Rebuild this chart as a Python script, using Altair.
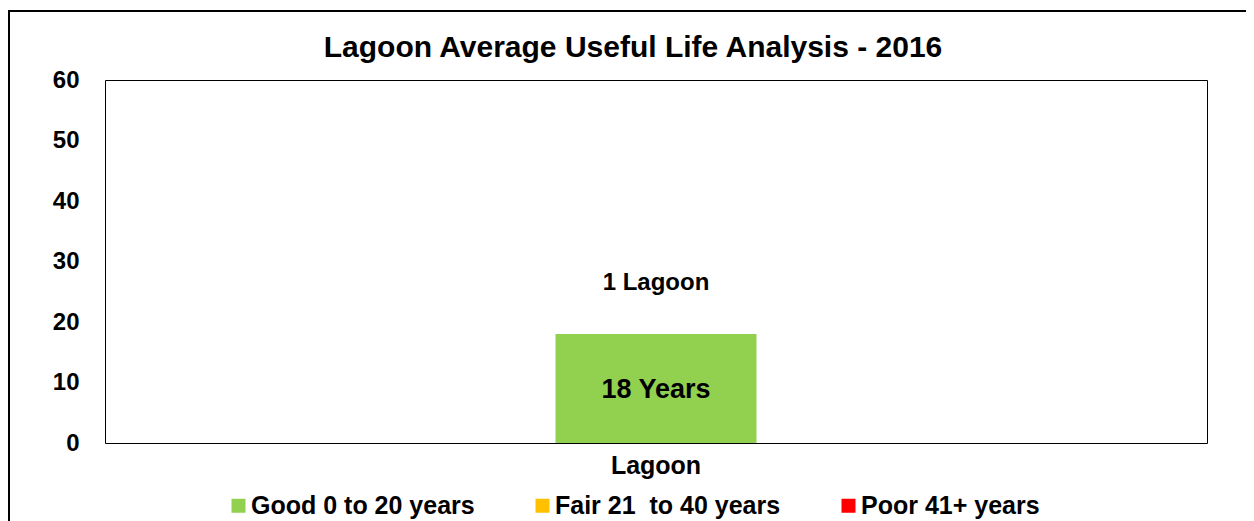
import altair as alt
import pandas as pd

# ---- data ----
categories = ["Lagoon"]
ages = [18]
counts_labels = ["1 Lagoon"]
value_labels = ["18 Years"]
condition = ["Good 0 to 20 years"]

legend_domain = ["Good 0 to 20 years", "Fair 21\u00a0 to 40 years", "Poor 41+ years"]
legend_colors = ["#92D050", "#FFC000", "#FF0000"]

df = pd.DataFrame({
    "Category": categories,
    "Age": ages,
    "CountLabel": counts_labels,
    "ValueLabel": value_labels,
    "Condition": condition,
})

FONT = "Liberation Sans, Arial, sans-serif"

base = alt.Chart(df)

bars = base.mark_bar(size=201).encode(
    x=alt.X("Category:N", title=None,
            axis=alt.Axis(labelAngle=0, labelFontSize=25, labelFont=FONT,
                          labelFontWeight="bold", labelColor="black",
                          domain=False, ticks=False, tickSize=0,
                          labelPadding=10)),
    y=alt.Y("Age:Q", title=None,
            scale=alt.Scale(domain=[0, 60], nice=False),
            axis=alt.Axis(values=[0, 10, 20, 30, 40, 50, 60], grid=False,
                          domain=False, ticks=False, tickSize=0,
                          labelPadding=26, labelFontSize=24, labelFont=FONT,
                          labelFontWeight="bold", labelColor="black")),
    color=alt.Color("Condition:N",
                    scale=alt.Scale(domain=legend_domain, range=legend_colors),
                    legend=alt.Legend(orient="none", legendX=121, legendY=413,
                                      direction="horizontal", title=None,
                                      symbolType="square", symbolSize=196,
                                      symbolStrokeWidth=0, labelFontSize=25,
                                      labelFont=FONT, labelFontWeight="bold",
                                      labelColor="black", labelOffset=0,
                                      columnPadding=55, padding=0,
                                      labelLimit=0)),
)

inner = base.transform_calculate(mid="datum.Age / 2").mark_text(
    font=FONT, fontSize=27, fontWeight="bold", color="black",
    baseline="middle", dy=1
).encode(x="Category:N", y="mid:Q", text="ValueLabel:N")

top = base.mark_text(
    font=FONT, fontSize=24, fontWeight="bold", color="black",
    baseline="middle", dy=-51
).encode(x="Category:N", y="Age:Q", text="CountLabel:N")

frame_data = alt.Data(values=[{}])
frame_left = alt.Chart(frame_data).mark_rule(color="black", strokeWidth=2).encode(
    x=alt.value(-96), y=alt.value(-69), y2=alt.value(445))
frame_top = alt.Chart(frame_data).mark_rule(color="black", strokeWidth=2).encode(
    x=alt.value(-97), x2=alt.value(1152), y=alt.value(-69))

chart = alt.layer(frame_left, frame_top, bars, inner, top).properties(
    width=1102,
    height=363,
    background="white",
    autosize=alt.AutoSizeParams(type="none"),
    padding={"left": 97, "top": 72, "right": 39, "bottom": 78},
    title=alt.TitleParams("Lagoon Average Useful Life Analysis - 2016",
                          font=FONT, fontSize=30, fontWeight="bold",
                          color="black", anchor="middle", baseline="alphabetic",
                          offset=-77, dx=-23),
).configure_view(stroke="black", strokeWidth=1)

chart.save("out.html", embed_options={"renderer": "svg", "actions": False})
